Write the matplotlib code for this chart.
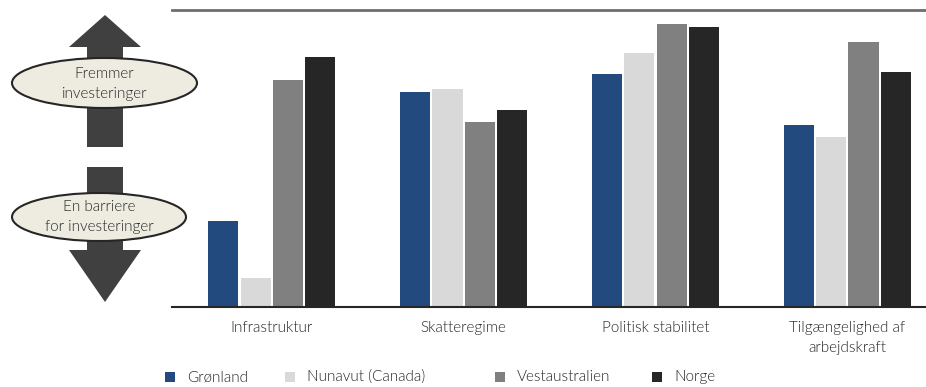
import numpy as np
import matplotlib.pyplot as plt
from matplotlib.patches import Ellipse, FancyArrow, Rectangle

plt.rcParams['font.family'] = ['Lato', 'DejaVu Sans']
plt.rcParams['font.weight'] = 300

categories = ["Infrastruktur", "Skatteregime", "Politisk stabilitet", "Tilgængelighed af\narbejdskraft"]
series = ["Grønland", "Nunavut (Canada)", "Vestaustralien", "Norge"]
groenland = [29.0, 72.4, 78.5, 61.3]
nunavut = [9.8, 73.4, 85.5, 57.2]
vestaustralien = [76.4, 62.3, 95.3, 89.2]
norge = [84.2, 66.3, 94.3, 79.1]
colors = ["#224a7e", "#d9d9d9", "#808080", "#262626"]
txt_col = "#262626"

W, H = 926, 387
fig = plt.figure(figsize=(W / 100, H / 100), dpi=100)
ax = fig.add_axes([172 / W, 80 / H, (W - 172) / W, 297 / H])
ax.patch.set_alpha(0)

x = np.arange(len(categories))
step = 0.168
width = 0.157
for i, vals in enumerate([groenland, nunavut, vestaustralien, norge]):
    ax.bar(x + (i - 1.5) * step, vals, width, color=colors[i], label=series[i], zorder=2)

ax.set_xlim(-0.52, 3.41)
ax.set_ylim(0, 100)
ax.axhline(100, color="#6e6e6e", lw=2, clip_on=False)
for s in ["top", "left", "right"]:
    ax.spines[s].set_visible(False)
ax.spines["bottom"].set_color("#262626")
ax.spines["bottom"].set_linewidth(1.5)
ax.set_yticks([])
ax.set_xticks(x)
ax.set_xticklabels(categories, fontsize=11, color=txt_col, va="top", linespacing=1.6)
ax.tick_params(axis="x", length=0, pad=10)

# overlay in pixel coordinates for the arrows, ovals and legend
ov = fig.add_axes([0, 0, 1, 1], zorder=5)
ov.set_xlim(0, W)
ov.set_ylim(H, 0)
ov.axis("off")
ov.patch.set_alpha(0)

arrow_col = "#404040"
# up arrow
ov.add_patch(FancyArrow(105, 147, 0, -132, width=36, head_width=72, head_length=32,
                        length_includes_head=True, color=arrow_col, lw=0))
# down arrow
ov.add_patch(FancyArrow(105, 167, 0, 135, width=36, head_width=72, head_length=52,
                        length_includes_head=True, color=arrow_col, lw=0))

ov.add_patch(Ellipse((104.5, 83), 185, 50, facecolor="#eeece1", edgecolor="#262626", lw=1.5))
ov.add_patch(Ellipse((99, 217), 174, 48, facecolor="#eeece1", edgecolor="#262626", lw=1.5))
ov.text(104.5, 84, "Fremmer\ninvesteringer", ha="center", va="center", fontsize=11,
        color=txt_col, linespacing=1.6)
ov.text(99, 217, "En barriere\nfor investeringer", ha="center", va="center", fontsize=11,
        color=txt_col, linespacing=1.6)

# legend
leg_x = [165, 285, 495, 652]
for i, name in enumerate(series):
    ov.add_patch(Rectangle((leg_x[i], 372), 10, 10, color=colors[i], lw=0))
    ov.text(leg_x[i] + 22, 377, name, ha="left", va="center", fontsize=11, color=txt_col)

fig.savefig("out.png", dpi=100)
